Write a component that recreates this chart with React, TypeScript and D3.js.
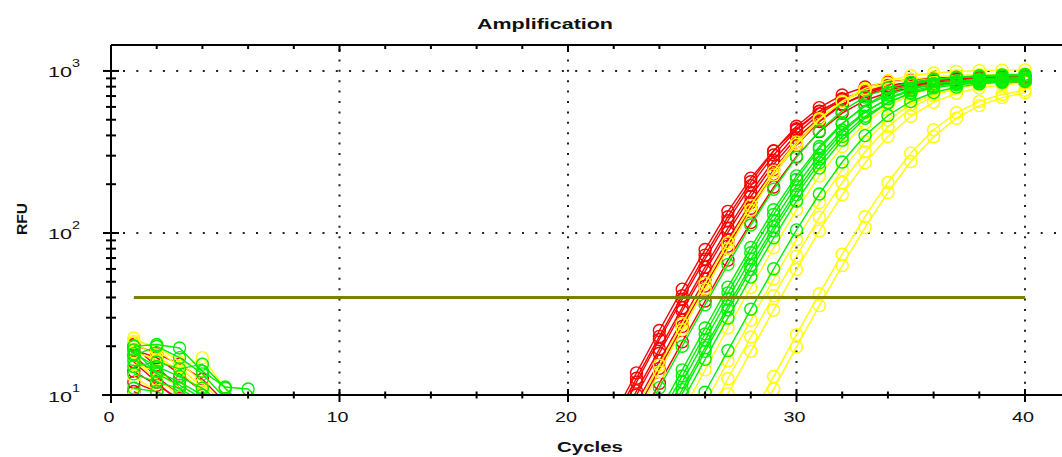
import React from "react";
import * as d3 from "d3";

const W = 1062;
const H = 457;

const chartTitle = "Amplification";
const xAxisLabel = "Cycles";
const yAxisLabel = "RFU";
const xDomain: [number, number] = [0, 42];
const yDomain: [number, number] = [10, 1446];
const xMajorTicks = [0, 10, 20, 30, 40];
const xTickLabels = ["0", "10", "20", "30", "40"];
const yMajorTicks = [10, 100, 1000];
const yTickExponents = ["1", "2", "3"];
const thresholdValue = 40;
const thresholdCycles = [1, 40];

const redColor = "#ff0000";
const yellowColor = "#ffff00";
const greenColor = "#00f000";
const thresholdColor = "#808000";

// baseline readings, cycle 1 onward
const redEarly = [
  [20, 15, 11, 8, 6],
  [19, 17, 13.5, 10.5, 7.5],
  [16, 12, 9, 6.5],
  [14, 11.5, 9.5, 7],
  [20.5, 18, 15.5, 12.5, 9],
  [12, 10.5, 8.5, 6],
  [17.5, 13, 10, 7.5],
  [10.5, 9, 7],
];
const redStart = [21, 22, 22, 22, 22, 22, 22, 23];
const redLate = [
  [4.1, 7.5, 13.7, 25, 45, 79, 136, 218, 322, 440, 565, 668, 745, 792, 820, 836, 846, 851, 855, 858],
  [6.6, 12.0, 22, 39, 69, 119, 196, 303, 432, 562, 673, 753, 806, 838, 857, 867, 873, 876, 878],
  [7.0, 12.7, 23, 41, 73, 126, 207, 320, 456, 594, 711, 796, 852, 885, 905, 916, 922, 926, 928],
  [5.5, 10.0, 18.1, 33, 58, 101, 168, 265, 385, 512, 625, 711, 768, 803, 824, 835, 842, 845, 847],
  [5.8, 10.6, 19.2, 34.6, 61.5, 107, 178, 280, 408, 543, 662, 753, 813, 850, 872, 885, 892, 895, 897],
  [4.9, 8.9, 16.2, 29, 52, 91, 154, 246, 366, 498, 621, 717, 783, 824, 849, 863, 870, 875, 877],
  [4.4, 8.0, 14.6, 26.5, 47, 83, 142, 230, 349, 487, 619, 727, 804, 853, 882, 899, 908, 914, 917],
  [6.5, 11.8, 21.3, 38, 68, 116, 192, 297, 422, 549, 657, 736, 788, 819, 837, 848, 853, 856],
];

const yellowEarly = [
  [22.5, 19, 15, 11, 8],
  [21, 17.5, 14, 10.5, 7],
  [18.5, 16.5, 14.5, 17, 11, 7.5],
  [15.5, 14, 11, 9, 7],
  [13, 10.5, 8, 6],
  [10, 8.5, 7],
  [21.5, 20, 16, 12, 8.5],
  [16.5, 12.5, 10, 8],
];
const yellowStart = [22, 23, 24, 25, 26, 26, 27, 28];
const yellowLate = [
  [4.6, 8.4, 15.3, 27.6, 49, 87, 148, 240, 365, 508, 646, 759, 839, 890, 920, 938, 948, 953, 957],
  [7.6, 13.9, 25.3, 45, 80, 138, 228, 352, 501, 651, 780, 873, 934, 971, 993, 1005, 1012, 1016],
  [4.3, 7.9, 14.3, 26, 46, 81, 139, 225, 342, 476, 606, 711, 786, 834, 863, 879, 889],
  [4.9, 8.9, 16.2, 29, 52, 91, 154, 246, 366, 498, 621, 717, 783, 824, 849, 863],
  [6.9, 12.6, 22.8, 41, 72, 125, 205, 317, 452, 587, 703, 787, 842, 876, 895],
  [5.6, 10.2, 18.6, 33.5, 59.5, 103, 172, 271, 394, 525, 640, 728, 786, 822, 843],
  [3.9, 7.2, 13.0, 23.6, 42.2, 74, 126, 205, 311, 434, 552, 648, 716, 760],
  [6.0, 10.9, 19.8, 35.6, 63, 108, 178, 276, 393, 511, 611, 685, 733],
];

const greenEarly = [
  [20, 20.5, 19.5, 14, 11.2, 10.9, 8],
  [17.5, 20, 17, 13.5, 9.5, 7],
  [15, 16, 14.5, 15.5, 11, 8],
  [13.5, 12, 11, 9, 7],
  [18, 15, 13, 11, 8.5],
  [11, 10.5, 9, 7],
  [16.5, 14, 12, 10, 7.5],
  [19, 13.5, 11.5, 9.5, 7],
];
const greenStart = [23, 23, 24, 24, 24, 24, 24, 25];
const greenLate = [
  [6.1, 11.1, 20, 36, 64, 112, 186, 293, 426, 567, 691, 786, 849, 888, 911, 924, 931, 935],
  [4.3, 7.9, 14.3, 25.9, 46.3, 81.3, 139, 225, 342, 476, 606, 711, 786, 834, 863, 879, 889, 894],
  [6.6, 12.0, 21.8, 39, 69, 119, 196, 303, 432, 562, 673, 753, 806, 838, 857, 867, 873],
  [7.2, 13.1, 23.8, 42.7, 75.5, 130, 214, 331, 471, 613, 734, 822, 879, 914, 935, 946, 953],
  [5.9, 10.8, 19.6, 35.4, 63, 109, 182, 286, 417, 555, 677, 769, 831, 869, 892, 904, 911],
  [5.6, 10.2, 18.6, 33.5, 59.5, 103, 172, 271, 394, 525, 640, 728, 786, 822, 843, 855, 862],
  [5.0, 9.1, 16.6, 29.9, 53.4, 93.3, 157, 252, 374, 510, 635, 733, 801, 843, 868, 882, 890],
  [5.7, 10.4, 18.8, 33.8, 60.1, 104.5, 174, 274, 399, 531, 648, 736, 795, 832, 853, 865],
];

type Pt = [number, number];

function buildSeries(early: number[][], start: number[], late: number[][], color: string) {
  return early.map((e, i) => {
    const pts: Pt[] = [];
    e.forEach((v, j) => pts.push([j + 1, v]));
    late[i].forEach((v, j) => pts.push([start[i] + j, v]));
    return { color, pts };
  });
}

export default function App() {
  const left = 111;
  const top = 45;
  const bottom = 395;
  const x = d3.scaleLinear().domain(xDomain).range([left, left + 42 * 22.85]);
  const y = d3.scaleLog().domain(yDomain).range([bottom, top]);

  const series = [
    ...buildSeries(redEarly, redStart, redLate, redColor),
    ...buildSeries(yellowEarly, yellowStart, yellowLate, yellowColor),
    ...buildSeries(greenEarly, greenStart, greenLate, greenColor),
  ];

  const line = d3
    .line<Pt>()
    .x((d) => x(d[0]))
    .y((d) => y(d[1]));

  const xMinor = d3.range(0, 43, 2).filter((t) => !xMajorTicks.includes(t));
  const yMinor: number[] = [];
  [10, 100, 1000].forEach((dec) => {
    for (let m = 2; m <= 9; m++) {
      const v = m * dec;
      if (v <= yDomain[1]) yMinor.push(v);
    }
  });

  const font = "'Liberation Sans', Arial, sans-serif";
  const textColor = "#111";

  return (
    <div style={{ position: "absolute", left: 0, top: 0 }}>
      <svg width={W} height={H} style={{ display: "block", background: "#fff" }}>
        <defs>
          <clipPath id="plotClip">
            <rect x={left} y={top} width={W - left} height={bottom - top} />
          </clipPath>
        </defs>

        {/* grid */}
        {xMajorTicks
          .filter((t) => t > 0)
          .map((t) => (
            <line
              key={"gx" + t}
              x1={x(t)}
              x2={x(t)}
              y1={top + 4}
              y2={bottom}
              stroke="#222"
              strokeWidth={2}
              strokeDasharray="2 8.4"
            />
          ))}
        {yMajorTicks
          .filter((t) => t > 10)
          .map((t) => (
            <line
              key={"gy" + t}
              x1={left + 12}
              x2={W}
              y1={y(t)}
              y2={y(t)}
              stroke="#222"
              strokeWidth={2}
              strokeDasharray="2 11.3"
            />
          ))}

        {/* curves */}
        <g clipPath="url(#plotClip)">
          {series.map((s, i) => (
            <g key={"s" + i}>
              <path d={line(s.pts) || ""} fill="none" stroke={s.color} strokeWidth={1.4} />
              {s.pts.map((p, j) => (
                <circle
                  key={j}
                  cx={x(p[0])}
                  cy={y(p[1])}
                  r={6}
                  fill="none"
                  stroke={s.color}
                  strokeWidth={1.4}
                />
              ))}
            </g>
          ))}
          <line
            x1={x(thresholdCycles[0])}
            x2={x(thresholdCycles[1])}
            y1={y(thresholdValue)}
            y2={y(thresholdValue)}
            stroke={thresholdColor}
            strokeWidth={3}
          />
        </g>

        {/* frame */}
        <line x1={left} x2={left} y1={top} y2={bottom + 8} stroke="#000" strokeWidth={2} />
        <line x1={left} x2={W} y1={top} y2={top} stroke="#000" strokeWidth={2} />
        <line x1={left - 9} x2={W} y1={bottom} y2={bottom} stroke="#000" strokeWidth={2} />

        {/* x ticks */}
        {xMajorTicks.map((t) => (
          <g key={"xt" + t}>
            <line x1={x(t)} x2={x(t)} y1={bottom - 6} y2={bottom + 7} stroke="#000" strokeWidth={2} />
            <line x1={x(t)} x2={x(t)} y1={top} y2={top + 7} stroke="#000" strokeWidth={2} />
          </g>
        ))}
        {xMinor.map((t) => (
          <g key={"xm" + t}>
            <line x1={x(t)} x2={x(t)} y1={bottom - 3.5} y2={bottom + 3.5} stroke="#000" strokeWidth={2} />
            <line x1={x(t)} x2={x(t)} y1={top} y2={top + 4} stroke="#000" strokeWidth={2} />
          </g>
        ))}
        {xMajorTicks.map((t, i) => (
          <text
            key={"xl" + t}
            x={x(t) - 2}
            y={422}
            textAnchor="middle"
            fontFamily={font}
            fontSize={15}
            fill={textColor}
            textLength={xTickLabels[i].length * 11}
            lengthAdjust="spacingAndGlyphs"
          >
            {xTickLabels[i]}
          </text>
        ))}

        {/* y ticks */}
        {yMajorTicks.map((t) => (
          <line key={"yt" + t} x1={left - 8} x2={left + 8} y1={y(t)} y2={y(t)} stroke="#000" strokeWidth={2} />
        ))}
        {yMinor.map((t) => (
          <line key={"ym" + t} x1={left - 5} x2={left + 5} y1={y(t)} y2={y(t)} stroke="#000" strokeWidth={2} />
        ))}
        {yMajorTicks.map((t, i) => (
          <g key={"yl" + t}>
            <text
              x={48}
              y={y(t) + 6.5}
              fontFamily={font}
              fontSize={15}
              fill={textColor}
              textLength={24}
              lengthAdjust="spacingAndGlyphs"
            >
              10
            </text>
            <text
              x={72}
              y={y(t) - 3.5}
              fontFamily={font}
              fontSize={11}
              fill={textColor}
              textLength={8}
              lengthAdjust="spacingAndGlyphs"
            >
              {yTickExponents[i]}
            </text>
          </g>
        ))}

        {/* titles */}
        <text
          x={477}
          y={29}
          fontFamily={font}
          fontWeight="bold"
          fontSize={15}
          fill={textColor}
          textLength={136}
          lengthAdjust="spacingAndGlyphs"
        >
          {chartTitle}
        </text>
        <text
          x={557}
          y={452}
          fontFamily={font}
          fontWeight="bold"
          fontSize={15}
          fill={textColor}
          textLength={66}
          lengthAdjust="spacingAndGlyphs"
        >
          {xAxisLabel}
        </text>
        <text
          transform="translate(27,235) rotate(-90)"
          fontFamily={font}
          fontWeight="bold"
          fontSize={14}
          fill={textColor}
          textLength={32}
          lengthAdjust="spacingAndGlyphs"
        >
          {yAxisLabel}
        </text>
      </svg>
    </div>
  );
}
